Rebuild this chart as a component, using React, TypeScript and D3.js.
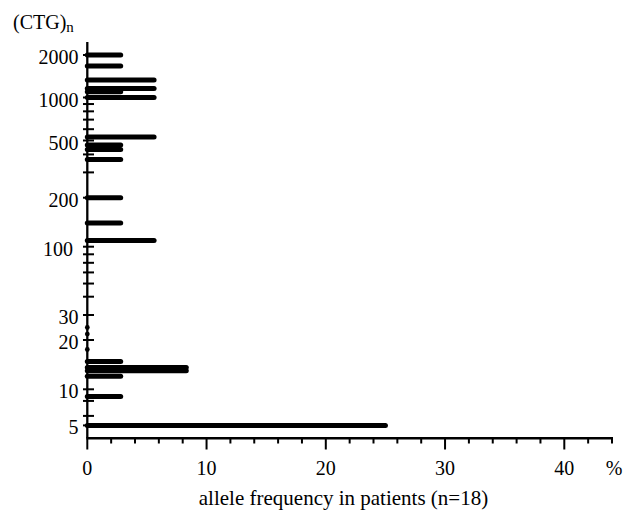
import React from 'react';
import * as d3 from 'd3';

// CTG repeat length of each allele band and its frequency (% of 36 alleles)
const expandedRepeats = [2000, 1670, 1330, 1160, 1100, 1000, 530, 465, 433, 369, 200, 140, 109];
const expandedFreq = [2.8, 2.8, 5.6, 5.6, 2.8, 5.6, 5.6, 2.8, 2.8, 2.8, 2.8, 2.8, 5.6];
const normalRepeats = [14.8, 13.6, 13, 12, 8.7, 5];
const normalFreq = [2.8, 8.3, 8.3, 2.8, 2.8, 25];
const dotRepeats = [24.5, 22, 17.5];

const yMajorTicks = [5, 10, 20, 30, 100, 200, 500, 1000, 2000];
const yMinorTicks = [6, 8, 50, 60, 70, 80, 90, 300, 400, 600, 700, 800, 900];
const xMajorTicks = [0, 10, 20, 30, 40];
const xMinorTicks = [2, 4, 6, 8, 12, 14, 16, 18, 22, 24, 26, 28, 32, 34, 36, 38, 42, 44];

const W = 631;
const H = 518;
const FONT = "'Liberation Serif', 'Times New Roman', serif";

export default function App() {
  const x = d3.scaleLinear().domain([0, 44]).range([87.3, 612]);
  // hand-drawn, roughly logarithmic axis: piecewise log scale calibrated at labelled ticks
  const y = d3
    .scaleLog()
    .domain([5, 10, 20, 30, 50, 100, 200, 500, 1000, 2000])
    .range([425.4, 389.3, 340, 315, 296.7, 246.7, 197.7, 140.5, 97.5, 55]);

  const axisX = x(0);
  const axisBottom = 438.3;
  const axisTop = 42;

  const bars = [
    ...expandedRepeats.map((r, i) => ({ r, f: expandedFreq[i] })),
    ...normalRepeats.map((r, i) => ({ r, f: normalFreq[i] })),
  ];

  return (
    <svg
      width={W}
      height={H}
      viewBox={`0 0 ${W} ${H}`}
      style={{ position: 'absolute', left: 0, top: 0, background: '#fff' }}
      fontFamily={FONT}
    >
      <rect x={0} y={0} width={W} height={H} fill="#fff" />

      {/* y axis */}
      <line x1={axisX} x2={axisX} y1={axisTop} y2={axisBottom} stroke="#000" strokeWidth={2.3} />
      {yMinorTicks.concat(yMajorTicks).map((t) => (
        <line key={'yt' + t} x1={83} x2={94} y1={y(t)} y2={y(t)} stroke="#000" strokeWidth={2} />
      ))}
      {yMajorTicks.map((t) => (
        <text
          key={'yl' + t}
          x={t === 100 ? 73 : 78.5}
          y={y(t) + 9}
          fontSize={20}
          textAnchor="end"
          fill="#000"
        >
          {t}
        </text>
      ))}
      {dotRepeats.map((r) => (
        <circle key={'d' + r} cx={axisX} cy={y(r)} r={2.4} fill="#000" />
      ))}

      {/* x axis */}
      <line x1={axisX - 1} x2={x(44) + 1} y1={axisBottom} y2={axisBottom} stroke="#000" strokeWidth={2.5} />
      {xMinorTicks.map((t) => (
        <line key={'xm' + t} x1={x(t)} x2={x(t)} y1={axisBottom} y2={443.5} stroke="#000" strokeWidth={2} />
      ))}
      {xMajorTicks.map((t) => (
        <line key={'xM' + t} x1={x(t)} x2={x(t)} y1={axisBottom} y2={449.5} stroke="#000" strokeWidth={2} />
      ))}
      {xMajorTicks.map((t) => (
        <text key={'xl' + t} x={x(t)} y={474.5} fontSize={20} textAnchor="middle" fill="#000">
          {t}
        </text>
      ))}
      <text x={614} y={474.5} fontSize={20} textAnchor="middle" fill="#000">
        %
      </text>

      {/* bars */}
      {bars.map((b, i) => (
        <line
          key={'b' + i}
          x1={x(0)}
          x2={x(b.f)}
          y1={y(b.r)}
          y2={y(b.r)}
          stroke="#000"
          strokeWidth={5}
          strokeLinecap="round"
        />
      ))}

      {/* titles */}
      <text x={13} y={29} fontSize={20} fill="#000">
        (CTG)
        <tspan fontSize={15} dy={2.5}>n</tspan>
      </text>
      <text x={343.5} y={505} fontSize={21} textAnchor="middle" fill="#000">
        allele frequency in patients (n=18)
      </text>
    </svg>
  );
}
